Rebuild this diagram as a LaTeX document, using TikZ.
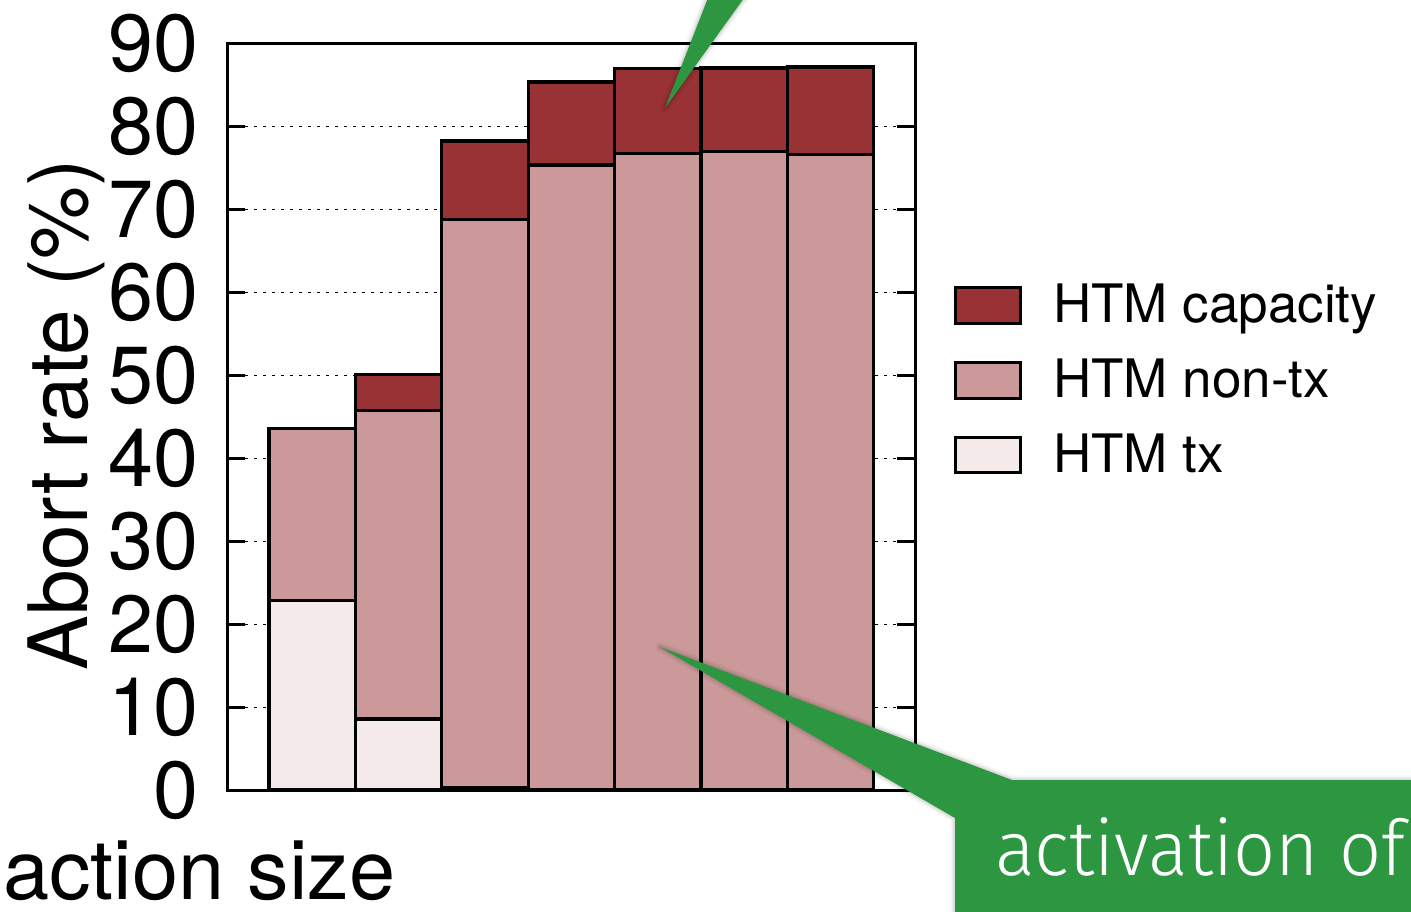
\documentclass[tikz,border=0pt]{standalone}
\usepackage{fontspec}
\setmainfont{TeX Gyre Heros}
\IfFontExistsTF{Fira Sans Light}
  {\newfontfamily\calloutfont{Fira Sans Light}}
  {\newfontfamily\calloutfont{Liberation Sans}}
\definecolor{capred}{RGB}{153,50,52}
\definecolor{nontxpink}{RGB}{203,153,153}
\definecolor{txpink}{RGB}{244,234,234}
\definecolor{calloutgreen}{RGB}{44,150,64}
\newcommand{\ticksize}{\fontsize{81}{81}\selectfont}
\newcommand{\labsize}{\fontsize{83}{83}\selectfont}
\newcommand{\legsize}{\fontsize{53}{53}\selectfont}
\begin{document}
\begin{tikzpicture}[x=1pt,y=-1pt,
  frame/.style={line width=3pt,line cap=rect},
  tickmark/.style={line width=3pt},
  gridline/.style={line width=0.9pt,dash pattern=on 3pt off 6pt},
  barseg/.style={draw=black,line width=3.2pt,line join=miter},
  ticklab/.style={anchor=east,inner sep=0pt,font=\ticksize},
  legbox/.style={draw=black,line width=3pt},
  legtext/.style={anchor=base west,inner sep=0pt,font=\legsize},
  callout/.style={fill=calloutgreen},
  halo/.style={draw=black,line join=round}]
\useasboundingbox (0,0) rectangle (1411,911);
\clip (0,0) rectangle (1411,911);
\fill[white] (0,0) rectangle (1411,911);

% dashed grid lines behind the bars
\foreach \v in {10,20,...,80}
  \draw[gridline] (245,{790-8.3*\v}) -- (897,{790-8.3*\v});

% stacked bars: tx / non-tx / capacity (percent)
\foreach \i/\a/\b/\c in {0/22.8/43.6/43.6, 1/8.55/45.7/50.1, 2/0.25/68.7/78.2,
                         3/0/75.3/85.3, 4/0/76.7/86.9, 5/0/76.9/87.0, 6/0/76.6/87.1}{
  \pgfmathsetmacro\xl{269+86.4*\i}
  \pgfmathsetmacro\xr{\xl+86.4}
  \pgfmathsetmacro\ya{790-8.3*\a}
  \pgfmathsetmacro\yb{790-8.3*\b}
  \pgfmathsetmacro\yc{790-8.3*\c}
  \draw[barseg,fill=txpink] (\xl,790) rectangle (\xr,\ya);
  \draw[barseg,fill=nontxpink] (\xl,\ya) rectangle (\xr,\yb);
  \draw[barseg,fill=capred] (\xl,\yb) rectangle (\xr,\yc);
}

% axes frame and ticks
\draw[frame] (227,43) rectangle (915,790);
\foreach \v in {10,20,...,80}{
  \draw[tickmark] (227,{790-8.3*\v}) -- (245,{790-8.3*\v});
  \draw[tickmark] (897,{790-8.3*\v}) -- (915,{790-8.3*\v});
}
\foreach \v in {0,10,...,90}
  \node[ticklab] (ylab\v) at (199,{790-8.3*\v}) {\v};

% axis titles
\node[rotate=90,anchor=base,inner sep=0pt,font=\fontsize{82}{82}\selectfont] (ytitle) at (87,415) {Abort rate (\%)};
\node[anchor=base west,inner sep=0pt,font=\labsize] (xtitle) at (3,899) {action size};

% legend
\draw[legbox,fill=capred] (955,287) rectangle (1020,323);
\draw[legbox,fill=nontxpink] (955,362) rectangle (1020,398);
\draw[legbox,fill=txpink] (955,437) rectangle (1020,472);
\node[legtext] (legcap) at (1053,322) {HTM capacity};
\node[legtext] (legnontx) at (1053,397) {HTM non-tx};
\node[legtext] (legtx) at (1053,472) {HTM tx};

% callout pointing down into the capacity part of bar 5
\foreach \w/\o in {10/0.03,6/0.05,3/0.07}
  \draw[halo,line width=\w pt,opacity=\o] (715,-20) -- (757,-20) -- (665,108) -- cycle;
\fill[callout] (715,-20) -- (757,-20) -- (665,108) -- cycle;

% callout box with pointer into the non-tx part of bar 5
\foreach \w/\o in {10/0.03,6/0.05,3/0.07}
  \draw[halo,line width=\w pt,opacity=\o]
    (660,647) -- (1012,780) -- (1430,780) -- (1430,930) -- (955,930) -- (955,818) -- cycle;
\fill[callout] (660,647) -- (1012,780) -- (1430,780) -- (1430,930) -- (955,930) -- (955,818) -- cycle;
\node[anchor=base west,inner sep=0pt,text=white,font=\calloutfont\fontsize{77}{77}\selectfont]
  (activation) at (995,875) {\scalebox{0.96}[1]{activation of}};
\end{tikzpicture}
\end{document}
